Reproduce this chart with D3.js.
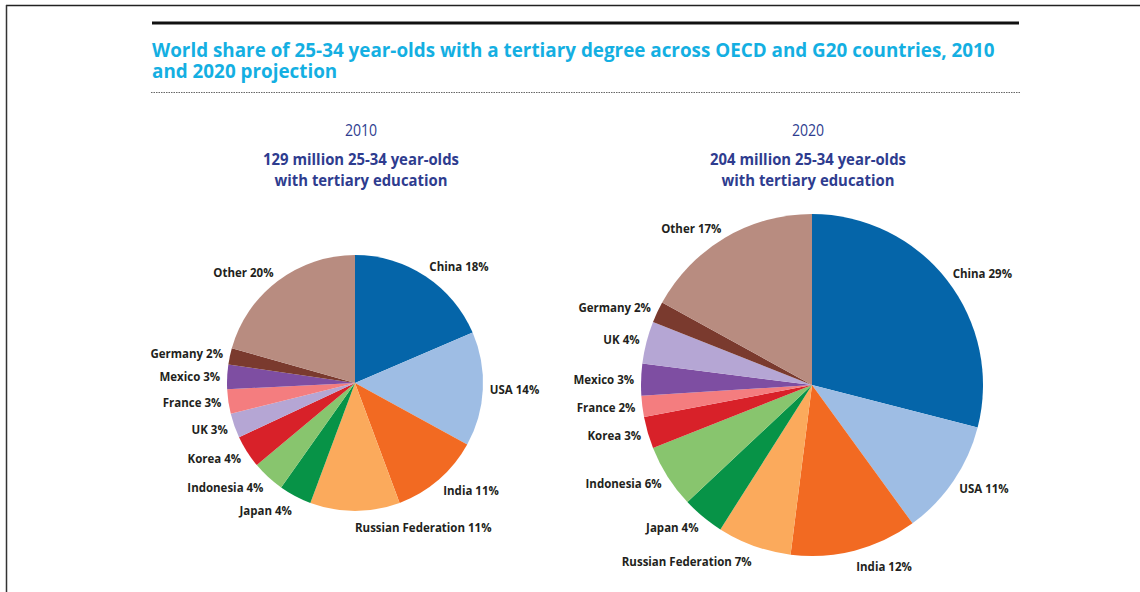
<!DOCTYPE html>
<html>
<head>
<meta charset="utf-8">
<script src="https://cdn.jsdelivr.net/npm/d3@7/dist/d3.min.js"></script>
<style>
  html, body { margin: 0; padding: 0; background: #fff; }
  svg { display: block; }
</style>
</head>
<body>
<svg id="chart" width="1140" height="592"></svg>
<script>
// World share of 25-34 year-olds with tertiary education (percent)
const titleLines = [
  "World share of 25-34 year-olds with a tertiary degree across OECD and G20 countries, 2010",
  "and 2020 projection"
];
const years = ["2010", "2020"];
const totalsMillion = [129, 204];

const categories2010 = ["China", "USA", "India", "Russian Federation", "Japan", "Indonesia",
  "Korea", "UK", "France", "Mexico", "Germany", "Other"];
const shares2010 = [18, 14, 11, 11, 4, 4, 4, 3, 3, 3, 2, 20];

const categories2020 = ["China", "USA", "India", "Russian Federation", "Japan", "Indonesia",
  "Korea", "France", "Mexico", "UK", "Germany", "Other"];
const shares2020 = [29, 11, 12, 7, 4, 6, 3, 2, 3, 4, 2, 17];

const countryNames = ["China", "USA", "India", "Russian Federation", "Japan", "Indonesia",
  "Korea", "UK", "France", "Mexico", "Germany", "Other"];
const countryColors = ["#0565a9", "#9ebde4", "#f26a22", "#fbaa5c", "#079347", "#88c56e",
  "#d82129", "#b5a6d4", "#f47d7f", "#7e4ea2", "#7a3a2e", "#b88c80"];

const color = d3.scaleOrdinal().domain(countryNames).range(countryColors);

const svg = d3.select("#chart");
const FONT = "'Open Sans', 'DejaVu Sans', sans-serif";

// place a text element at (x, y) and squeeze it horizontally
function addText(parent, x, y, str, sx) {
  return parent.append("text")
    .attr("transform", `translate(${x},${y}) scale(${sx},1)`)
    .text(str);
}

// page frame
svg.append("line").attr("x1", 6).attr("x2", 1140).attr("y1", 5.5).attr("y2", 5.5)
  .attr("stroke", "#222").attr("stroke-width", 1.5);
svg.append("line").attr("x1", 6.5).attr("x2", 6.5).attr("y1", 5).attr("y2", 592)
  .attr("stroke", "#333").attr("stroke-width", 1.5);

// heavy rule above the title
svg.append("rect").attr("x", 152).attr("y", 21.5).attr("width", 867).attr("height", 3)
  .attr("fill", "#111");

// two-line title, fitted to the column width
const title = svg.append("text")
  .attr("font-family", FONT).attr("font-weight", 700).attr("font-size", 20)
  .attr("fill", "#14afe2");
const line1 = title.append("tspan").attr("x", 0).attr("y", 0).text(titleLines[0]);
title.append("tspan").attr("x", 0).attr("y", 21).text(titleLines[1]);
const tsx = 843 / line1.node().getComputedTextLength();
title.attr("transform", `translate(152,57) scale(${tsx},1)`);

// dotted rule under the title
svg.append("line").attr("x1", 151).attr("x2", 1020).attr("y1", 92.5).attr("y2", 92.5)
  .attr("stroke", "#666").attr("stroke-width", 1).attr("stroke-dasharray", "1.5,1");

const panels = [
  { year: years[0], total: totalsMillion[0], cats: categories2010, vals: shares2010,
    cx: 355, cy: 383, r: 128, hx: 361 },
  { year: years[1], total: totalsMillion[1], cats: categories2020, vals: shares2020,
    cx: 812, cy: 385, r: 171, hx: 808 }
];

const pie = d3.pie().sort(null).value(d => d.value);

panels.forEach(p => {
  const data = p.cats.map((c, i) => ({ name: c, value: p.vals[i] }));

  // headings
  const head = svg.append("g").attr("font-family", FONT).attr("fill", "#2e3c8f")
    .attr("text-anchor", "middle");
  addText(head, p.hx, 136, p.year, 0.88).attr("font-size", 16).attr("font-weight", 400);
  addText(head, p.hx, 165, `${p.total} million 25-34 year-olds`, 0.93)
    .attr("font-size", 16).attr("font-weight", 700);
  addText(head, p.hx, 186, "with tertiary education", 0.93)
    .attr("font-size", 16).attr("font-weight", 700);

  const arcs = pie(data);
  const arc = d3.arc().innerRadius(0).outerRadius(p.r);

  const g = svg.append("g").attr("transform", `translate(${p.cx},${p.cy})`);
  g.selectAll("path.slice").data(arcs).join("path")
    .attr("class", "slice")
    .attr("d", arc)
    .attr("fill", d => color(d.data.name));

  // slice labels around the rim
  const lg = g.append("g").attr("font-family", FONT).attr("font-weight", 700)
    .attr("font-size", 12.5).attr("fill", "#231f20");
  arcs.forEach(d => {
    const a = (d.startAngle + d.endAngle) / 2;
    const s = Math.sin(a), c = -Math.cos(a);
    const rr = p.r + 7;
    const x = s * rr;
    const y = c * rr + (c > 0 ? 10 * c * c : 4 * c);
    addText(lg, x, y, `${d.data.name} ${d.data.value}%`, 0.92)
      .attr("dy", "0.35em")
      .attr("text-anchor", s < -0.02 ? "end" : "start");
  });
});
</script>
</body>
</html>
